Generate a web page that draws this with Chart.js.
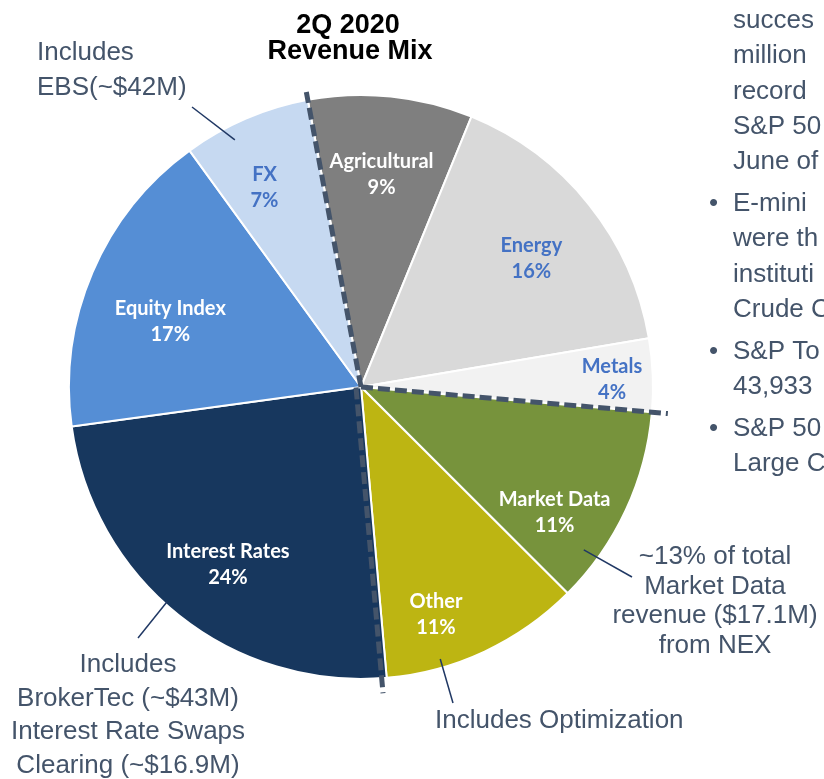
<!DOCTYPE html>
<html>
<head>
<meta charset="utf-8">
<script src="https://cdn.jsdelivr.net/npm/chart.js@4/dist/chart.umd.min.js"></script>
<style>
  html, body { margin: 0; padding: 0; background: #fff; }
  #wrap { position: relative; width: 824px; height: 779px; overflow: hidden; }
</style>
</head>
<body>
<div id="wrap"><canvas id="chart" width="824" height="779"></canvas></div>
<script>
'use strict';

// revenue mix, 2Q 2020 (percent of total)
const segments = ['Agricultural', 'Energy', 'Metals', 'Market Data', 'Other', 'Interest Rates', 'Equity Index', 'FX'];
const shares = [9, 16, 4, 11, 11, 24, 17, 7];

const titleLines = ['2Q 2020', 'Revenue Mix'];
const ebsNote = ['Includes', 'EBS(~$42M)'];
const ratesNote = ['Includes', 'BrokerTec (~$43M)', 'Interest Rate Swaps', 'Clearing (~$16.9M)'];
const marketNote = ['~13% of total', 'Market Data', 'revenue ($17.1M)', 'from NEX'];
const otherNote = ['Includes Optimization'];
// text from the slide that is cut off by the right edge
const sideText = [
  ['succes', 'million', 'record', 'S&P 50', 'June of'],
  ['E-mini', 'were th', 'instituti', 'Crude C'],
  ['S&P To', '43,933'],
  ['S&P 50', 'Large C']
];

// styling
const sliceColors = ['#7f7f7f', '#d9d9d9', '#f2f2f2', '#77933c', '#bdb512', '#17375e', '#558ed5', '#c6d9f1'];
const labelColors = ['#ffffff', '#4472c4', '#4472c4', '#ffffff', '#ffffff', '#ffffff', '#ffffff', '#4472c4'];
// where each label sits: fraction along the slice's sweep, fraction of the radius
const labelSweep = [0.49, 0.53, 0.55, 0.70, 0.67, 0.48, 0.43, 0.40];
const labelRadius = [0.73, 0.73, 0.86, 0.79, 0.82, 0.76, 0.69, 0.76];
const noteColor = '#44546a';
const leaderColor = '#203864';

// dashed group separators: slice index whose start edge is marked, extra length, sideways shift
const separators = [
  { index: 0, extra: 8, shift: 0 },
  { index: 3, extra: 16, shift: 0 },
  { index: 5, extra: 15, shift: 5 }
];

const overlay = {
  id: 'overlay',
  afterDatasetsDraw(chart) {
    const ctx = chart.ctx;
    const arcs = chart.getDatasetMeta(0).data;
    const cx = arcs[0].x;
    const cy = arcs[0].y;
    const R = arcs[0].outerRadius;

    const pointIn = (i, frac, rr) => {
      const arc = arcs[i];
      const a = arc.startAngle + (arc.endAngle - arc.startAngle) * frac;
      return [cx + Math.cos(a) * R * rr, cy + Math.sin(a) * R * rr];
    };

    // dashed separators
    ctx.save();
    ctx.strokeStyle = noteColor;
    ctx.lineWidth = 5;
    ctx.setLineDash([12, 5]);
    ctx.lineCap = 'butt';
    separators.forEach(s => {
      const a = arcs[s.index].startAngle;
      const px = -Math.sin(a) * s.shift;
      const py = Math.cos(a) * s.shift;
      ctx.beginPath();
      ctx.moveTo(cx + px, cy + py);
      ctx.lineTo(cx + px + Math.cos(a) * (R + s.extra), cy + py + Math.sin(a) * (R + s.extra));
      ctx.stroke();
    });
    ctx.restore();

    // slice labels
    ctx.save();
    ctx.textAlign = 'center';
    ctx.textBaseline = 'middle';
    ctx.font = 'bold 20px Lato, "Open Sans", sans-serif';
    arcs.forEach((arc, i) => {
      const [x, y] = pointIn(i, labelSweep[i], labelRadius[i]);
      ctx.fillStyle = labelColors[i];
      ctx.fillText(segments[i], x, y - 13);
      ctx.fillText(shares[i] + '%', x, y + 13);
    });
    ctx.restore();

    // leader lines from slices to notes
    const leaders = [
      [pointIn(7, 0.35, 0.95), [192, 107]],
      [pointIn(5, 0.54, 0.99), [138, 638]],
      [pointIn(3, 0.78, 0.945), [632, 577]],
      [pointIn(4, 0.72, 0.97), [453, 703]]
    ];
    ctx.save();
    ctx.strokeStyle = leaderColor;
    ctx.lineWidth = 1.5;
    leaders.forEach(([p, q]) => {
      ctx.beginPath();
      ctx.moveTo(p[0], p[1]);
      ctx.lineTo(q[0], q[1]);
      ctx.stroke();
    });
    ctx.restore();
  },
  afterDraw(chart) {
    const ctx = chart.ctx;
    ctx.save();
    ctx.textBaseline = 'alphabetic';

    // title
    ctx.fillStyle = '#000000';
    ctx.font = 'bold 27px "Liberation Sans", Arial, sans-serif';
    ctx.textAlign = 'center';
    ctx.fillText(titleLines[0], 348, 33);
    ctx.fillText(titleLines[1], 350, 59);

    ctx.fillStyle = noteColor;
    ctx.font = '26px "Liberation Sans", Arial, sans-serif';

    ctx.textAlign = 'left';
    ebsNote.forEach((t, i) => ctx.fillText(t, 37, 60 + i * 35));
    otherNote.forEach((t, i) => ctx.fillText(t, 435, 728 + i * 34));

    ctx.textAlign = 'center';
    ratesNote.forEach((t, i) => ctx.fillText(t, 128, 672 + i * 33.5));
    marketNote.forEach((t, i) => ctx.fillText(t, 715, 564 + i * 29.6));

    ctx.textAlign = 'left';
    let y = 28;
    sideText.forEach((group, g) => {
      group.forEach((t, i) => {
        if (i === 0 && g > 0) ctx.fillText('\u2022', 709, y);
        ctx.fillText(t, 733, y);
        y += 35.3;
      });
      y += 6.5;
    });
    ctx.restore();
  }
};

new Chart(document.getElementById('chart'), {
  type: 'pie',
  data: {
    labels: segments,
    datasets: [{
      data: shares,
      backgroundColor: sliceColors,
      borderColor: '#ffffff',
      borderWidth: 2
    }]
  },
  options: {
    responsive: false,
    animation: false,
    rotation: -10.5,
    radius: 292,
    layout: { padding: { left: 69, right: 171, top: 95, bottom: 100 } },
    plugins: {
      legend: { display: false },
      tooltip: { enabled: false }
    }
  },
  plugins: [overlay]
});
</script>
</body>
</html>
